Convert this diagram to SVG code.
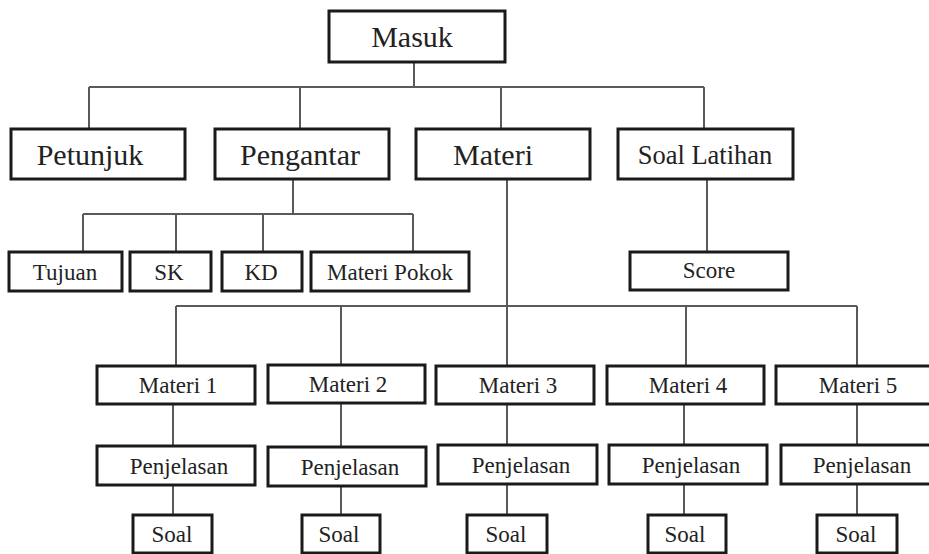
<svg xmlns="http://www.w3.org/2000/svg" width="929" height="554" viewBox="0 0 929 554">
<style>
.b{fill:#fff;stroke:#1a1a1a;stroke-width:3}
text{font-family:'Liberation Serif','Times New Roman','DejaVu Serif',serif;fill:#222;text-anchor:middle}
.L{font-size:30px}
.m{font-size:26.5px}
.s{font-size:23px}
#conn path{fill:none;stroke:#5a5a5a;stroke-width:2}
</style>
<rect width="929" height="554" fill="#fff"/>
<g id="conn">
<path d="M414 62V87M89 87H704M89 87V129M300 87V129M501 87V129M704 87V129"/>
<path d="M293 179V214M83 214H413M83 214V252M176 214V252M263 214V252M413 214V252"/>
<path d="M707 179V252"/>
<path d="M507 179V366M176 306H857M176 306V366M341 306V366M686 306V366M857 306V366"/>
<path d="M173 404V446M173 485V515M341 404V447M341 486V515M507 404V445M507 484V515M684 404V445M684 484V515M857 404V445M857 484V515"/>
</g>
<g id="masuk"><rect class="b" x="329" y="11" width="176" height="51"/><text class="L" x="412" y="47">Masuk</text></g>
<g id="petunjuk"><rect class="b" x="11" y="129" width="174" height="50"/><text class="L" x="90" y="165">Petunjuk</text></g>
<g id="pengantar"><rect class="b" x="215" y="129" width="174" height="50"/><text class="L" x="300" y="165">Pengantar</text></g>
<g id="materi"><rect class="b" x="416" y="129" width="174" height="50"/><text class="L" x="493" y="165">Materi</text></g>
<g id="soal-latihan"><rect class="b" x="618" y="129" width="175" height="50"/><text class="m" x="705" y="164">Soal Latihan</text></g>
<g id="tujuan"><rect class="b" x="9" y="252" width="113" height="39"/><text class="s" x="65" y="280">Tujuan</text></g>
<g id="sk"><rect class="b" x="130" y="252" width="81" height="39"/><text class="s" x="169" y="280">SK</text></g>
<g id="kd"><rect class="b" x="222" y="252" width="80" height="39"/><text class="s" x="261" y="280">KD</text></g>
<g id="materi-pokok"><rect class="b" x="311" y="252" width="158" height="39"/><text class="s" x="390" y="280">Materi Pokok</text></g>
<g id="score"><rect class="b" x="630" y="252" width="158" height="38"/><text class="s" x="709" y="278">Score</text></g>
<g id="materi1"><rect class="b" x="97" y="366" width="158" height="38"/><text class="s" x="178" y="393">Materi 1</text></g>
<g id="materi2"><rect class="b" x="268" y="365" width="157" height="38"/><text class="s" x="348" y="392">Materi 2</text></g>
<g id="materi3"><rect class="b" x="436" y="366" width="158" height="38"/><text class="s" x="518" y="393">Materi 3</text></g>
<g id="materi4"><rect class="b" x="607" y="366" width="157" height="38"/><text class="s" x="688" y="393">Materi 4</text></g>
<g id="materi5"><rect class="b" x="776" y="366" width="160" height="38"/><text class="s" x="858" y="393">Materi 5</text></g>
<g id="penjelasan1"><rect class="b" x="97" y="446" width="158" height="39"/><text class="s" x="179" y="474">Penjelasan</text></g>
<g id="penjelasan2"><rect class="b" x="268" y="447" width="158" height="39"/><text class="s" x="350" y="475">Penjelasan</text></g>
<g id="penjelasan3"><rect class="b" x="438" y="445" width="159" height="39"/><text class="s" x="521" y="473">Penjelasan</text></g>
<g id="penjelasan4"><rect class="b" x="609" y="445" width="158" height="39"/><text class="s" x="691" y="473">Penjelasan</text></g>
<g id="penjelasan5"><rect class="b" x="781" y="445" width="155" height="39"/><text class="s" x="862" y="473">Penjelasan</text></g>
<g id="soal1"><rect class="b" x="133" y="515" width="79" height="38"/><text class="s" x="172" y="542">Soal</text></g>
<g id="soal2"><rect class="b" x="302" y="515" width="78" height="38"/><text class="s" x="339" y="542">Soal</text></g>
<g id="soal3"><rect class="b" x="467" y="515" width="80" height="38"/><text class="s" x="506" y="542">Soal</text></g>
<g id="soal4"><rect class="b" x="648" y="515" width="78" height="38"/><text class="s" x="685" y="542">Soal</text></g>
<g id="soal5"><rect class="b" x="817" y="515" width="80" height="38"/><text class="s" x="856" y="542">Soal</text></g>
</svg>
